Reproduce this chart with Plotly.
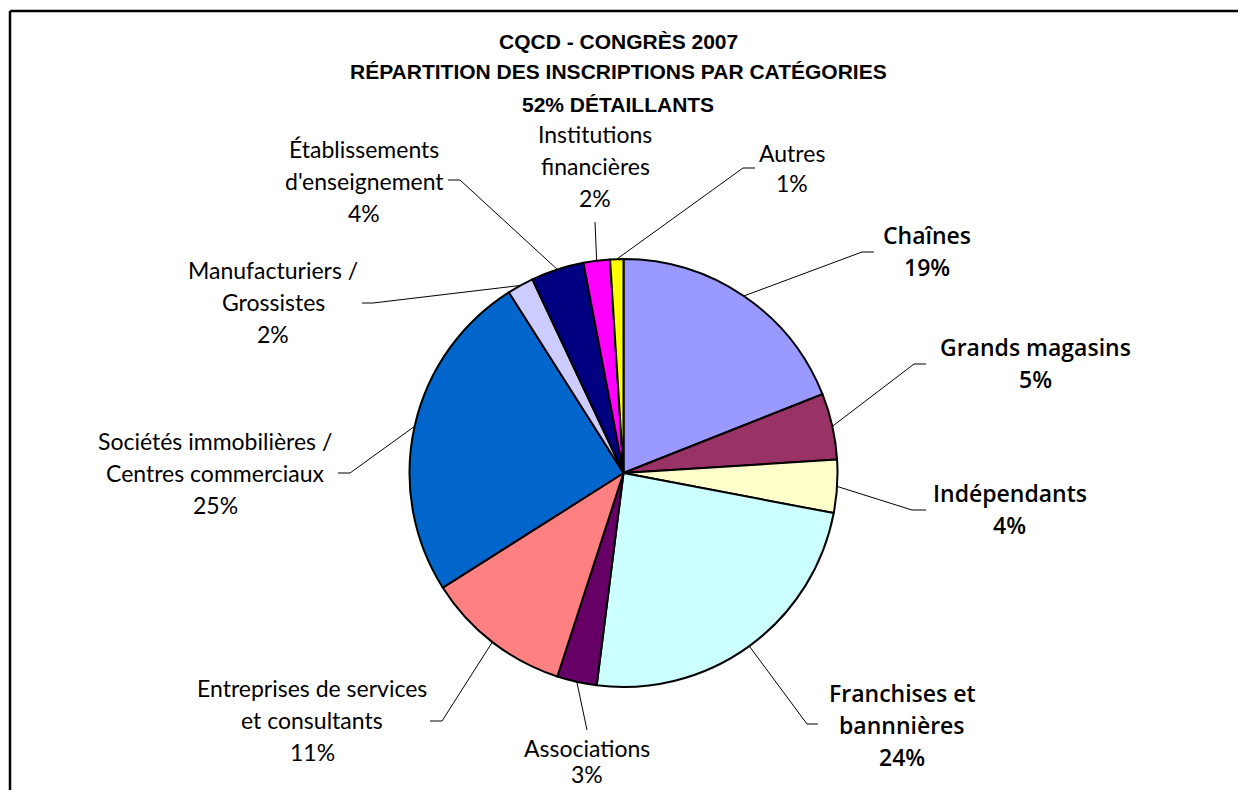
import math
import plotly.graph_objects as go

# ---------------- data ----------------
title_lines = ["CQCD - CONGRÈS 2007",
               "RÉPARTITION DES INSCRIPTIONS PAR CATÉGORIES",
               "52% DÉTAILLANTS"]

categories = [
    "Chaînes",
    "Grands magasins",
    "Indépendants",
    "Franchises et\nbannnières",
    "Associations",
    "Entreprises de services\net consultants",
    "Sociétés immobilières /\nCentres commerciaux",
    "Manufacturiers /\nGrossistes",
    "Établissements\nd'enseignement",
    "Institutions\nfinancières",
    "Autres",
]
percentages = [19, 5, 4, 24, 3, 11, 25, 2, 4, 2, 1]
is_retail = [True, True, True, True, False, False, False, False, False, False, False]

# ---------------- styles / layout ----------------
colors = ["#9999FF", "#993366", "#FFFFCC", "#CCFFFF", "#660066", "#FF8080",
          "#0066CC", "#CCCCFF", "#000080", "#FF00FF", "#FFFF00"]

PAGE_W, PAGE_H = 1246, 798
OFF = 8                                   # browser body margin
W, H = PAGE_W - 2 * OFF, PAGE_H - 2 * OFF
CX, CY, R = 623.5, 473.0, 214.0          # pie centre / radius (page pixels)

# label placement in page pixels:
# (centre x, first line y, line spacing, elbow x, elbow y, tick end x)
label_pos = [
    (927, 235, 32, 862, 252, 874),
    (1035, 347, 32, 914, 364, 926),
    (1010, 493, 32, 912, 510, 926),
    (902, 693, 32, 807, 724, 818),
    (587, 748, 26, 587, 730, 587),
    (312, 688, 32, 442, 721, 430),
    (215, 441, 32, 350, 473, 338),
    (273, 270, 32, 373, 303, 362),
    (364, 149, 32, 460, 180, 448),
    (595, 134, 32, 595, 222, 595),
    (792, 153, 30, 743, 168, 755),
]


def px(x):
    return (x - OFF) / W


def py(y):
    return 1 - (y - OFF) / H


fig = go.Figure()
fig.add_trace(go.Pie(
    values=percentages,
    labels=[c.replace("\n", " ") for c in categories],
    sort=False,
    direction="clockwise",
    rotation=0,
    textinfo="none",
    marker=dict(colors=colors, line=dict(color="black", width=2)),
    domain=dict(x=[px(CX - R), px(CX + R)], y=[py(CY + R), py(CY - R)]),
    showlegend=False,
    hovertemplate="%{label}: %{value}%<extra></extra>",
))

shapes = []
annotations = []

# frame (left and top edges visible; the rest runs off the page)
shapes.append(dict(type="line", xref="paper", yref="paper",
                   x0=px(10), y0=py(11), x1=px(10), y1=py(PAGE_H + 20),
                   line=dict(color="black", width=2.5)))
shapes.append(dict(type="line", xref="paper", yref="paper",
                   x0=px(10), y0=py(11), x1=px(PAGE_W + 20), y1=py(11),
                   line=dict(color="black", width=2.5)))

# title
for i, t in enumerate(title_lines):
    annotations.append(dict(
        text=t, xref="paper", yref="paper", x=px(618), y=py([42, 72, 104][i]),
        xanchor="center", yanchor="middle", showarrow=False,
        font=dict(family="Liberation Sans, Arial", size=21, color="black", weight="bold"),
    ))

total = sum(percentages)
cum = 0.0
for i, (name, v) in enumerate(zip(categories, percentages)):
    mid = (cum + v / 2) / total * 2 * math.pi
    cum += v
    sx = CX + R * math.sin(mid)
    sy = CY - R * math.cos(mid)
    lx, ly0, dy, ex, ey, tx = label_pos[i]
    # leader line: slice edge -> elbow -> short tick
    shapes.append(dict(type="line", xref="paper", yref="paper",
                       x0=px(sx), y0=py(sy), x1=px(ex), y1=py(ey),
                       line=dict(color="black", width=1)))
    if tx != ex:
        shapes.append(dict(type="line", xref="paper", yref="paper",
                           x0=px(ex), y0=py(ey), x1=px(tx), y1=py(ey),
                           line=dict(color="black", width=1)))
    lines = name.split("\n") + [f"{v}%"]
    if is_retail[i]:
        font = dict(family="Open Sans", size=23, color="black", weight=600)
    else:
        font = dict(family="Lato", size=23, color="black")
    for k, t in enumerate(lines):
        annotations.append(dict(
            text=t, xref="paper", yref="paper", x=px(lx), y=py(ly0 + k * dy),
            xanchor="center", yanchor="middle", showarrow=False, font=font,
        ))

fig.update_layout(
    width=W, height=H,
    margin=dict(l=0, r=0, t=0, b=0),
    paper_bgcolor="white",
    plot_bgcolor="white",
    shapes=shapes,
    annotations=annotations,
)

fig.write_html("out.html")
